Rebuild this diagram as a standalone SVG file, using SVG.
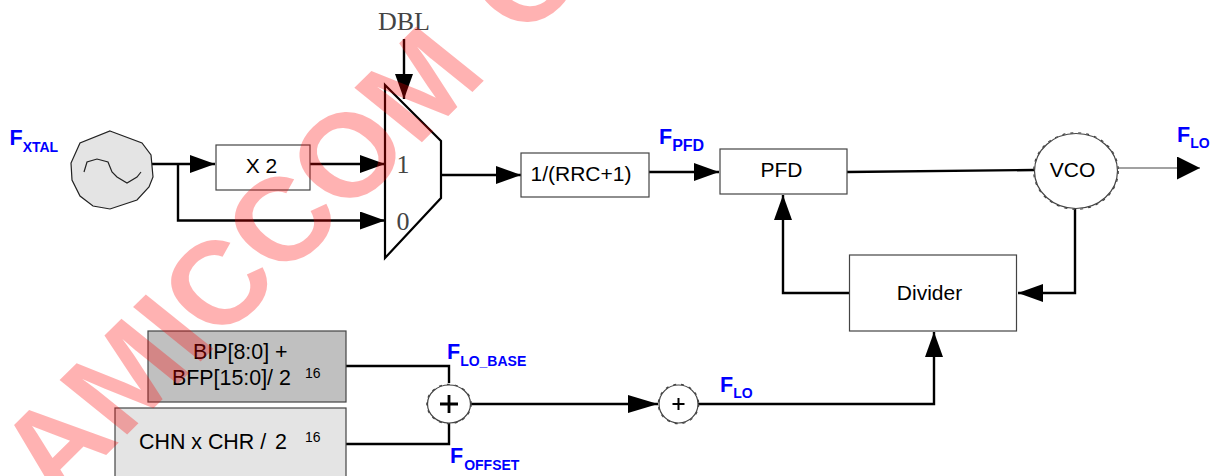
<svg xmlns="http://www.w3.org/2000/svg" width="1212" height="476" viewBox="0 0 1212 476">
<style>
text{font-family:"Liberation Sans",Arial,sans-serif;fill:#000}
.box{fill:#fff;stroke:#444;stroke-width:1.2}
.t{font-size:21px;text-anchor:middle}
.s{font-size:21.4px}
.serif{font-family:"Liberation Serif","Times New Roman",serif;fill:#444;font-size:26px}
.lab{fill:#0000ff;font-weight:bold;font-size:21.500px}
.lab tspan{font-size:14px}
.sup{font-size:14px}
.w{fill:none;stroke:#000;stroke-width:2.4}
.thin{fill:none;stroke:#444;stroke-width:1.2}
.bub{fill:#fff;stroke:#444;stroke-width:1.2}
.bub2{fill:none;stroke:#444;stroke-width:1.2;stroke-dasharray:3 5}
.wm{fill:#ff0000;fill-opacity:.3;font-weight:bold;font-size:118px;word-spacing:14px}
</style>
<defs>
<marker id="a" markerUnits="userSpaceOnUse" markerWidth="26" markerHeight="20" refX="25" refY="9" orient="auto"><path d="M0 0L25 9L0 18Z" fill="#000"/></marker>
<marker id="b" markerUnits="userSpaceOnUse" markerWidth="24" markerHeight="24" refX="23" refY="11.500" orient="auto"><path d="M0 0L23 11.500L0 23Z" fill="#000"/></marker>
<marker id="c" markerUnits="userSpaceOnUse" markerWidth="31" markerHeight="20" refX="30" refY="9" orient="auto"><path d="M0 0L30 9L0 18Z" fill="#000"/></marker>
</defs>
<g id="connectors">
<path class="w" marker-end="url(#a)" d="M152 164H215"/>
<path class="w" marker-end="url(#a)" d="M178 164V220.500H385"/>
<path class="w" marker-end="url(#a)" d="M310 164H385"/>
<path class="w" marker-end="url(#a)" d="M404 39V99"/>
<path class="w" marker-end="url(#a)" d="M442 175H521"/>
<path class="w" marker-end="url(#a)" d="M649 172H719"/>
<path class="w" d="M847 172L1034 170"/>
<path class="thin" marker-end="url(#b)" d="M1118 168H1200"/>
<path class="w" marker-end="url(#a)" d="M1075 208V293H1018"/>
<path class="w" marker-end="url(#a)" d="M849 293H783V195"/>
<path class="w" d="M346 366H449V383"/>
<path class="w" d="M346 444H449V423"/>
<path class="w" marker-end="url(#c)" d="M470 404H658"/>
<path class="w" marker-end="url(#a)" d="M698 404H934V332"/>
</g>
<g id="osc">
<path d="M110 131L142 143L151 155L153 177L149 187L137 200L110 209L93 206L80 196L72 180L71 163L80 143Z" fill="#e4e4e4" stroke="#222" stroke-width="1.2"/>
<path d="M84 172L87 162L97 159L108 162L112 172L117 177L127 183L137 177L141 172" fill="none" stroke="#222" stroke-width="1.2"/>
</g>
<g id="x2"><rect class="box" x="216" y="145" width="94" height="45"/><text class="t" x="261.500" y="173">X 2</text></g>
<g id="mux"><path d="M385 85L441 141V198L385 258Z" fill="none" stroke="#000" stroke-width="2.2"/><text class="serif" text-anchor="middle" x="403" y="173">1</text><text class="serif" text-anchor="middle" x="403" y="230">0</text></g>
<g id="dbl"><text class="serif" font-size="27" x="378" y="30">DBL</text></g>
<g id="rrc"><rect class="box" x="521" y="153" width="128" height="44"/><text class="t" x="581" y="181">1/(RRC+1)</text></g>
<g id="pfd"><rect class="box" x="720" y="149" width="127" height="45"/><text class="t" x="781.500" y="177">PFD</text></g>
<g id="vco"><ellipse class="bub" cx="1076" cy="171" rx="41.500" ry="37.500"/><ellipse class="bub2" cx="1076" cy="171" rx="42.300" ry="38.300"/><text class="t" x="1072.500" y="177">VCO</text></g>
<g id="divider"><rect class="box" x="849.500" y="255" width="167" height="76"/><text class="t" x="929.500" y="300">Divider</text></g>
<g id="bip"><rect x="148" y="331" width="198" height="71" fill="#c0c0c0" stroke="#444" stroke-width="1.2"/><text class="s" x="193" y="359">BIP[8:0] +</text><text class="s" x="172" y="385">BFP[15:0]/ 2</text><text class="sup" x="305" y="378">16</text></g>
<g id="chn"><rect x="115" y="408" width="231" height="80" fill="#e4e4e4" stroke="#444" stroke-width="1.2"/><text class="s" x="139" y="449">CHN x CHR /</text><text class="s" text-anchor="end" x="287" y="449">2</text><text class="sup" x="305" y="442">16</text></g>
<g id="sum1"><ellipse class="bub" cx="449" cy="404" rx="21.500" ry="19"/><ellipse class="bub2" cx="449" cy="404" rx="22.200" ry="19.700"/><path d="M440 404H458M449 395V413" stroke="#000" stroke-width="2.8"/></g>
<g id="sum2"><ellipse class="bub" cx="678.500" cy="404" rx="19.500" ry="19"/><ellipse class="bub2" cx="678.500" cy="404" rx="20.200" ry="19.700"/><path d="M672.500 404H684.500M678.500 398V410" stroke="#000" stroke-width="2"/></g>
<g id="labels">
<text class="lab" x="9.500" y="145">F<tspan dy="7">XTAL</tspan></text>
<text class="lab" x="659" y="144">F<tspan dy="7" style="font-size:16px">PFD</tspan></text>
<text class="lab" x="1177" y="142">F<tspan dy="6">LO</tspan></text>
<text class="lab" x="720" y="392">F<tspan dy="6">LO</tspan></text>
<text class="lab" x="447" y="359">F<tspan dy="7">LO_BASE</tspan></text>
<text class="lab" x="450" y="463">F<tspan dy="7" dx="1">OFFSET</tspan></text>
</g>
<text class="wm" transform="scale(1.12 1) translate(51.200 503.600) rotate(-48)">AMICCOM C</text>
</svg>
